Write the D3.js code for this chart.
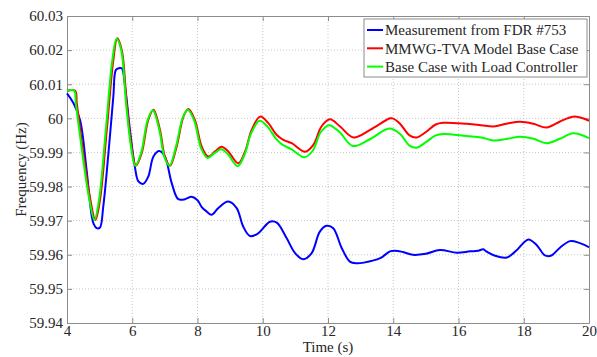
<!DOCTYPE html>
<html>
<head>
<meta charset="utf-8">
<script src="https://cdn.jsdelivr.net/npm/d3@7"></script>
<style>
  body { margin: 0; background: #fff; }
  svg text { font-family: "Liberation Serif", "Times New Roman", serif; }
</style>
</head>
<body>
<div id="chart"></div>
<script>
// Measurement from FDR #753
var blue_t = [4.0, 4.2, 4.4, 4.6, 4.76, 4.82, 4.91, 5.01, 5.11, 5.27, 5.42, 5.5, 5.6, 5.68, 5.78, 5.93, 6.08, 6.19, 6.34, 6.49, 6.65, 6.83, 7.0, 7.21, 7.41, 7.62, 7.82, 8.0, 8.13, 8.28, 8.43, 8.64, 8.94, 9.2, 9.4, 9.61, 9.86, 10.22, 10.43, 10.73, 10.99, 11.24, 11.5, 11.75, 11.96, 12.16, 12.42, 12.67, 12.88, 13.1, 13.6, 13.9, 14.05, 14.3, 14.6, 15.0, 15.43, 15.95, 16.35, 16.6, 16.76, 16.85, 17.1, 17.48, 17.8, 18.14, 18.4, 18.65, 18.85, 19.1, 19.42, 19.7, 20.0];
var blue_v = [60.0073, 60.0044, 59.9995, 59.9849, 59.9712, 59.969, 59.9678, 59.968, 59.974, 59.9898, 60.0064, 60.0142, 60.0147, 60.0147, 60.0093, 59.9966, 59.9858, 59.9815, 59.9808, 59.9829, 59.9888, 59.9904, 59.9888, 59.981, 59.9763, 59.9763, 59.977, 59.976, 59.974, 59.9727, 59.9717, 59.9737, 59.9756, 59.9737, 59.9683, 59.9655, 59.9663, 59.9697, 59.9694, 59.9649, 59.9605, 59.9587, 59.9605, 59.9668, 59.9685, 59.9678, 59.962, 59.958, 59.9575, 59.9577, 59.959, 59.961, 59.9612, 59.9608, 59.96, 59.9603, 59.9614, 59.9606, 59.961, 59.9612, 59.9616, 59.961, 59.9598, 59.9592, 59.9615, 59.9645, 59.9628, 59.9598, 59.9598, 59.962, 59.964, 59.9635, 59.9622];

// MMWG-TVA Model Base Case
var red_t = [4.0, 4.25, 4.3, 4.5, 4.7, 4.87, 5.01, 5.22, 5.42, 5.54, 5.68, 5.83, 5.98, 6.11, 6.29, 6.49, 6.65, 6.85, 7.0, 7.16, 7.36, 7.57, 7.72, 7.92, 8.13, 8.33, 8.54, 8.74, 8.94, 9.25, 9.46, 9.66, 9.92, 10.17, 10.43, 10.63, 10.89, 11.3, 11.55, 11.8, 12.06, 12.37, 12.78, 13.29, 13.9, 13.98, 14.2, 14.5, 14.72, 15.0, 15.3, 15.53, 16.25, 16.7, 17.07, 17.5, 17.89, 18.3, 18.7, 19.1, 19.52, 20.0];
var red_v = [60.0081, 60.0081, 60.0044, 59.9898, 59.977, 59.9702, 59.976, 59.9966, 60.0171, 60.0235, 60.02, 60.0044, 59.9917, 59.9861, 59.9898, 59.9995, 60.0025, 59.9966, 59.9888, 59.9861, 59.9917, 60.0005, 60.0027, 59.9995, 59.9917, 59.9888, 59.9903, 59.9917, 59.9903, 59.9868, 59.9903, 59.9966, 60.0005, 59.9986, 59.9951, 59.9937, 59.9927, 59.9902, 59.9922, 59.9976, 59.9997, 59.9976, 59.9944, 59.9966, 60.0, 60.0, 59.9985, 59.995, 59.9944, 59.996, 59.9982, 59.9987, 59.9984, 59.998, 59.9976, 59.9985, 59.999, 59.9984, 59.9973, 59.999, 60.0005, 59.9993];

// Base Case with Load Controller
var green_t = [4.0, 4.22, 4.27, 4.47, 4.67, 4.84, 4.98, 5.19, 5.39, 5.52, 5.66, 5.81, 5.96, 6.09, 6.27, 6.47, 6.63, 6.83, 6.98, 7.14, 7.34, 7.55, 7.7, 7.9, 8.11, 8.31, 8.52, 8.72, 8.92, 9.23, 9.44, 9.64, 9.9, 10.15, 10.41, 10.61, 10.87, 11.28, 11.53, 11.78, 12.03, 12.35, 12.76, 13.27, 13.88, 14.2, 14.5, 14.72, 15.0, 15.3, 15.53, 16.25, 16.7, 17.07, 17.5, 17.89, 18.3, 18.7, 19.1, 19.52, 20.0];
var green_v = [60.0081, 60.0081, 60.0044, 59.9898, 59.977, 59.9702, 59.976, 59.9966, 60.0171, 60.0233, 60.02, 60.0044, 59.9917, 59.9861, 59.9898, 59.9995, 60.0024, 59.9966, 59.9888, 59.9861, 59.9917, 60.0003, 60.0025, 59.9993, 59.9912, 59.9884, 59.9898, 59.9909, 59.9896, 59.986, 59.9893, 59.9955, 59.9993, 59.9975, 59.994, 59.9922, 59.991, 59.9886, 59.9905, 59.996, 59.998, 59.996, 59.9919, 59.9938, 59.997, 59.9955, 59.992, 59.9914, 59.993, 59.995, 59.9954, 59.9948, 59.9944, 59.9935, 59.994, 59.9946, 59.994, 59.9927, 59.994, 59.9956, 59.9942];

var x_ticks = [4, 6, 8, 10, 12, 14, 16, 18, 20];
var y_ticks = [59.94, 59.95, 59.96, 59.97, 59.98, 59.99, 60, 60.01, 60.02, 60.03];
var series_names = ['Measurement from FDR #753', 'MMWG-TVA Model Base Case', 'Base Case with Load Controller'];
var series_colors = ['#0000ff', '#ff0000', '#00ff00'];

var chart_width = 597, chart_height = 357;
var plot_left = 67, plot_right = 589, plot_top = 16, plot_bottom = 323;

var svg = d3.select('#chart')
    .append('svg')
    .attr('width', chart_width)
    .attr('height', chart_height);

var scale_x = d3.scaleLinear().domain([4, 20]).range([plot_left, plot_right]);
var scale_y = d3.scaleLinear().domain([59.94, 60.03]).range([plot_bottom, plot_top]);

// Grid
svg.append('g')
    .selectAll('line')
    .data(x_ticks.slice(1, -1))
    .enter()
    .append('line')
    .attr('x1', function(d) { return scale_x(d); })
    .attr('x2', function(d) { return scale_x(d); })
    .attr('y1', plot_top)
    .attr('y2', plot_bottom)
    .attr('stroke', '#c8c8c8')
    .attr('stroke-dasharray', '1,2');

svg.append('g')
    .selectAll('line')
    .data(y_ticks.slice(1, -1))
    .enter()
    .append('line')
    .attr('y1', function(d) { return scale_y(d); })
    .attr('y2', function(d) { return scale_y(d); })
    .attr('x1', plot_left)
    .attr('x2', plot_right)
    .attr('stroke', '#c8c8c8')
    .attr('stroke-dasharray', '1,2');

// Axes
var axis_x = d3.axisBottom(scale_x).tickValues(x_ticks).tickSizeInner(-5).tickSizeOuter(0).tickPadding(2);
var axis_y = d3.axisLeft(scale_y).tickValues(y_ticks).tickSizeInner(-5).tickSizeOuter(0).tickPadding(4)
    .tickFormat(function(d) { return d3.format('.2f')(d).replace(/\.?0+$/, ''); });
var axis_x_top = d3.axisTop(scale_x).tickValues(x_ticks).tickSizeInner(-5).tickSizeOuter(0).tickFormat('');
var axis_y_right = d3.axisRight(scale_y).tickValues(y_ticks).tickSizeInner(-5).tickSizeOuter(0).tickFormat('');

function style_axis(g) {
    g.selectAll('path').attr('stroke', '#8c8c8c');
    g.selectAll('line').attr('stroke', '#8c8c8c');
    g.selectAll('text')
        .attr('fill', '#262626')
        .style('font-size', '15px');
}

svg.append('g').attr('transform', 'translate(0,' + plot_bottom + ')').call(axis_x).call(style_axis);
svg.append('g').attr('transform', 'translate(' + plot_left + ',0)').call(axis_y).call(style_axis);
svg.append('g').attr('transform', 'translate(0,' + plot_top + ')').call(axis_x_top).call(style_axis);
svg.append('g').attr('transform', 'translate(' + plot_right + ',0)').call(axis_y_right).call(style_axis);

// Lines
var line = d3.line()
    .x(function(d) { return scale_x(d[0]); })
    .y(function(d) { return scale_y(d[1]); })
    .curve(d3.curveCatmullRom.alpha(0.5));

var series = [
    d3.zip(blue_t, blue_v),
    d3.zip(red_t, red_v),
    d3.zip(green_t, green_v)
];

svg.append('g')
    .selectAll('path')
    .data(series)
    .enter()
    .append('path')
    .attr('d', line)
    .attr('fill', 'none')
    .attr('stroke', function(d, i) { return series_colors[i]; })
    .attr('stroke-width', 2);

// Axis titles
svg.append('text')
    .attr('x', (plot_left + plot_right) / 2)
    .attr('y', 352)
    .attr('text-anchor', 'middle')
    .attr('fill', '#262626')
    .style('font-size', '15px')
    .text('Time (s)');

svg.append('text')
    .attr('transform', 'translate(26,' + (plot_top + plot_bottom) / 2 + ') rotate(-90)')
    .attr('text-anchor', 'middle')
    .attr('fill', '#262626')
    .style('font-size', '15px')
    .text('Frequency (Hz)');

// Legend
var legend = svg.append('g');
legend.append('rect')
    .attr('x', 364)
    .attr('y', 19)
    .attr('width', 223)
    .attr('height', 58)
    .attr('fill', '#fff')
    .attr('stroke', '#8c8c8c');

var rows = legend.selectAll('g.row')
    .data(series_names)
    .enter()
    .append('g')
    .attr('class', 'row')
    .attr('transform', function(d, i) { return 'translate(0,' + (30 + i * 18.3) + ')'; });

rows.append('line')
    .attr('x1', 367)
    .attr('x2', 383)
    .attr('stroke', function(d, i) { return series_colors[i]; })
    .attr('stroke-width', 2);

rows.append('text')
    .attr('x', 385)
    .attr('dy', '0.35em')
    .attr('fill', '#262626')
    .style('font-size', '15px')
    .text(function(d) { return d; });
</script>
</body>
</html>
